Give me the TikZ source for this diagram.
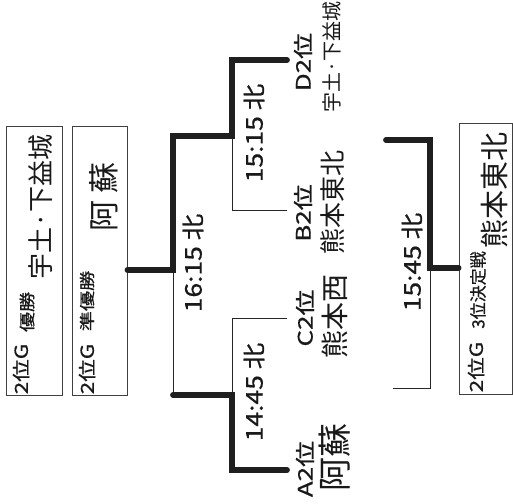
\documentclass[tikz,border=0pt]{standalone}
\usepackage{fontspec}
\setmainfont{Noto Sans CJK JP}
\newfontfamily\hand{Noto Sans CJK JP}
\newfontfamily\prt[FakeBold=0.6]{Noto Sans CJK JP}
\usepackage{graphicx}
\newcommand{\fs}[3]{{\fontsize{#1}{#1}\prt\scalebox{#2}[1]{#3}}}
\newcommand{\hw}[2]{{\fontsize{#1}{#1}\hand #2}}
\begin{document}
\begin{tikzpicture}[x=1pt,y=-1pt,
  boxst/.style={draw=black!75, line width=0.9pt, inner sep=0pt},
  txt/.style={rotate=90, inner sep=0pt, text=black!90},
  heavy/.style={line width=5.8pt, black!88, line cap=round, line join=miter},
  light/.style={line width=0.9pt, black!85}]
\useasboundingbox (0,0) rectangle (513,503);
\fill[white] (0,0) rectangle (513,503);

% result boxes
\node[boxst, minimum width=56pt, minimum height=269pt] (winner) at (34,260.5) {};
\node[boxst, minimum width=55pt, minimum height=269pt] (runnerup) at (99.5,260.5) {};
\node[boxst, minimum width=53pt, minimum height=271pt] (third) at (485.5,258.5) {};

% box texts
\node[txt] (w1) at (21,369) {\fs{18}{1.25}{2位G}};
\node[txt] (w2) at (27,312) {\fs{16}{1.25}{優勝}};
\node[txt] (w3) at (41,207) {\hw{26}{宇土·下益城}};
\node[txt] (r1) at (87,369) {\fs{18}{1.25}{2位G}};
\node[txt] (r2) at (87,301) {\fs{15.5}{1.3}{準優勝}};
\node[txt] (r3) at (104,197) {\hw{31}{阿\ 蘇}};
\node[txt] (t1) at (476,367) {\fs{18}{1.25}{2位G}};
\node[txt] (t2) at (478,290) {\fs{17}{1.0}{3位決定戦}};
\node[txt] (t3) at (494,190) {\hw{29}{熊本東北}};

% team labels
\node[txt] (dpos) at (303,62) {\fs{20}{1.3}{D2位}};
\node[txt] (dname) at (332,57) {\hw{20}{宇土·下益城}};
\node[txt] (bpos) at (303,213) {\fs{20}{1.3}{B2位}};
\node[txt] (bname) at (333,202) {\hw{26}{熊本東北}};
\node[txt] (cpos) at (305,318) {\fs{20}{1.3}{C2位}};
\node[txt] (cname) at (335,316) {\hw{28}{熊本西}};
\node[txt] (apos) at (305,469) {\fs{20}{1.3}{A2位}};
\node[txt] (aname) at (335,457) {\hw{34}{阿蘇}};

% match times
\node[txt] (m1) at (254,133) {\fs{23}{1.15}{15:15 北}};
\node[txt] (m2) at (254,392) {\fs{23}{1.15}{14:45 北}};
\node[txt] (m3) at (193,263) {\fs{23}{1.15}{16:15 北}};
\node[txt] (m4) at (412,262) {\fs{23}{1.15}{15:45 北}};

% bracket junctions
\coordinate (final) at (173,270);
\coordinate (finalTop) at (173,136);
\coordinate (finalBot) at (173,395);
\coordinate (semiA) at (232,136);
\coordinate (semiB) at (232,395);
\coordinate (semiAtop) at (232,60);
\coordinate (semiAbot) at (232,210);
\coordinate (semiBtop) at (232,318);
\coordinate (semiBbot) at (232,470);
\coordinate (dEnd) at (287,60);
\coordinate (bEnd) at (287,210);
\coordinate (cEnd) at (287,318);
\coordinate (aEnd) at (287,470);
% third place
\coordinate (thTopEnd) at (386,140);
\coordinate (thTop) at (430,140);
\coordinate (thMid) at (430,268);
\coordinate (thBot) at (430,388);
\coordinate (thBotEnd) at (393,388);

% main bracket
\draw[light] (final) -- (finalBot);
\draw[light] (semiA) -- (semiAbot) -- (bEnd);
\draw[light] (semiB) -- (semiBtop) -- (cEnd);
\draw[heavy] (runnerup.east |- final) -- (final) -- (finalTop) -- (semiA) -- (semiAtop) -- (dEnd);
\draw[heavy] (finalBot) -- (semiB) -- (semiBbot) -- (aEnd);
% third place bracket
\draw[light] (thMid) -- (thBot) -- (thBotEnd);
\draw[heavy] (thTopEnd) -- (thTop) -- (thMid) -- (third.west |- thMid);
\end{tikzpicture}
\end{document}
